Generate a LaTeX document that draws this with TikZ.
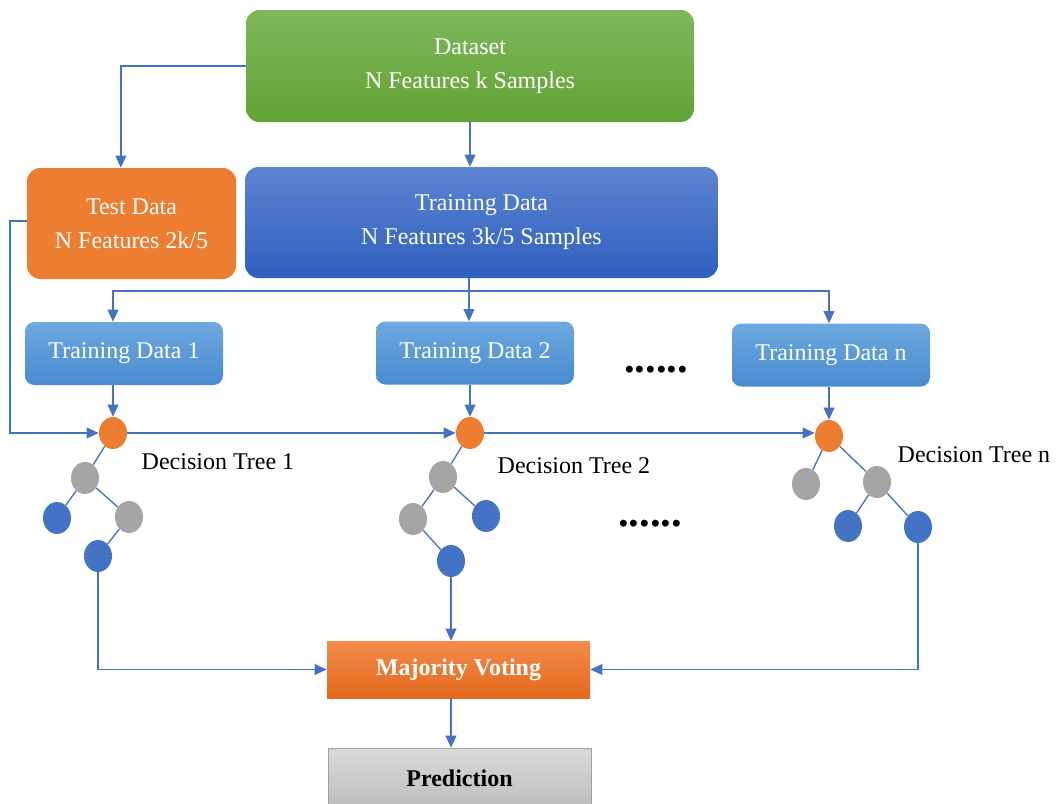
\documentclass[tikz,border=0pt]{standalone}
\usepackage{fontspec}
\setmainfont{Liberation Serif}
\usetikzlibrary{arrows.meta,shapes.geometric}

\definecolor{linkblue}{HTML}{4472C4}
\definecolor{treeorange}{HTML}{ED7D31}
\definecolor{treegray}{HTML}{A5A5A5}

\begin{document}
\begin{tikzpicture}[x=0.75pt, y=-0.75pt,
        font=\fontsize{18}{25.5}\selectfont,
        box/.style={rounded corners=10pt, text=white, align=center, inner sep=0pt},
        smallbox/.style={box, rounded corners=7pt, minimum width=148.5pt, minimum height=47.25pt},
        arr/.style={linkblue, line width=1.2pt, -{Triangle[length=9pt,width=8pt]}},
        link/.style={linkblue, line width=1.2pt},
        edge/.style={linkblue, line width=1pt},
        treenode/.style={ellipse, minimum width=21pt, minimum height=24pt, inner sep=0pt, fill=#1}]
    \useasboundingbox (0,0) rectangle (1056,803);

    % boxes
    \node [box, minimum width=336pt, minimum height=84pt, top color={rgb,255:red,126;green,184;blue,92},
        bottom color={rgb,255:red,99;green,162;blue,52}] (dataset) at (470,66) {Dataset\\N Features k Samples};
    \node [box, minimum width=156.75pt, minimum height=83.25pt, fill=treeorange] (test) at (131.5,223.5)
        {Test Data\\N Features 2k/5};
    \node [box, minimum width=354.75pt, minimum height=83.25pt, top color={rgb,255:red,92;green,132;blue,208},
        bottom color={rgb,255:red,47;green,95;blue,191}] (train) at (481.5,222.5)
        {Training Data\\N Features 3k/5 Samples};

    \node [smallbox, top color={rgb,255:red,110;green,169;blue,223}, bottom color={rgb,255:red,72;green,139;blue,207}]
        (td1) at (124,353.5) {Training Data 1};
    \node [smallbox, top color={rgb,255:red,110;green,169;blue,223}, bottom color={rgb,255:red,72;green,139;blue,207}]
        (td2) at (475,353) {Training Data 2};
    \node [smallbox, top color={rgb,255:red,110;green,169;blue,223}, bottom color={rgb,255:red,72;green,139;blue,207}]
        (tdn) at (831,355) {Training Data n};

    \node [font=\fontsize{32}{32}\selectfont\bfseries] (dots1) at (656,370) {......};
    \node [font=\fontsize{32}{32}\selectfont\bfseries] (dots2) at (650,524) {......};

    \node [minimum width=197.25pt, minimum height=42.75pt, inner sep=0pt, text=white, font=\fontsize{18}{18}\selectfont\bfseries,
        top color={rgb,255:red,242;green,139;blue,76}, bottom color={rgb,255:red,228;green,105;blue,26}] (mv) at (458.5,669.5)
        {Majority Voting};
    \node [minimum width=197.25pt, minimum height=45pt, inner sep=0pt, draw={rgb,255:red,160;green,160;blue,160},
        font=\fontsize{18}{18}\selectfont\bfseries,
        top color={rgb,255:red,218;green,218;blue,218}, bottom color={rgb,255:red,189;green,189;blue,189}] (pred) at (459.5,778)
        {Prediction};

    % tree 1
    \node [treenode=treeorange] (r1) at (113,433) {};
    \node [treenode=treegray] (g11) at (85,478) {};
    \node [treenode=linkblue] (b11) at (57,518) {};
    \node [treenode=treegray] (g12) at (129,517) {};
    \node [treenode=linkblue] (b12) at (98,556) {};
    \draw [edge] (r1) -- (g11);
    \draw [edge] (g11) -- (b11);
    \draw [edge] (g11) -- (g12);
    \draw [edge] (g12) -- (b12);
    \node [anchor=west] (dt1) at (137,462) {Decision Tree 1};

    % tree 2
    \node [treenode=treeorange] (r2) at (470,433) {};
    \node [treenode=treegray] (g21) at (443,477) {};
    \node [treenode=treegray] (g22) at (413,519) {};
    \node [treenode=linkblue] (b21) at (486,516) {};
    \node [treenode=linkblue] (b22) at (451,561) {};
    \draw [edge] (r2) -- (g21);
    \draw [edge] (g21) -- (g22);
    \draw [edge] (g21) -- (b21);
    \draw [edge] (g22) -- (b22);
    \node [anchor=west] (dt2) at (493,466) {Decision Tree 2};

    % tree n
    \node [treenode=treeorange] (rn) at (829,436) {};
    \node [treenode=treegray] (gn1) at (806,484) {};
    \node [treenode=treegray] (gn2) at (877,482) {};
    \node [treenode=linkblue] (bn1) at (848,526) {};
    \node [treenode=linkblue] (bn2) at (918,527) {};
    \draw [edge] (rn) -- (gn1);
    \draw [edge] (rn) -- (gn2);
    \draw [edge] (gn2) -- (bn1);
    \draw [edge] (gn2) -- (bn2);
    \node [anchor=west] (dtn) at (893,455) {Decision Tree n};

    % connectors
    \coordinate (bus) at (469,291);
    \draw [arr] (dataset.west) -| ([xshift=-8pt]test.north);
    \draw [arr] (dataset.south) -- (dataset.south |- train.north);
    \draw [link] (train.south -| bus) -- (bus);
    \draw [arr] (bus) -| (td1.north -| r1);
    \draw [arr] (bus) -- (td2.north -| bus);
    \draw [arr] (bus) -| (tdn.north -| rn);
    \draw [arr] (td1.south -| r1) -- (r1);
    \draw [arr] (td2.south -| r2) -- (r2);
    \draw [arr] (tdn.south -| rn) -- (rn);
    \draw [arr] ([yshift=2pt]test.west) -- ++(-17,0) |- (r1.west);
    \draw [arr] (r1.east) -- (r2.west);
    \draw [arr] (r2.east) -- (r2.east -| rn.west);
    \draw [arr] (b12.south) |- (mv.west);
    \draw [arr] (b22.south) -- (b22.south |- mv.north);
    \draw [arr] (bn2.south) |- (mv.east);
    \draw [arr] (mv.south -| b22) -- (pred.north -| b22);
\end{tikzpicture}
\end{document}
